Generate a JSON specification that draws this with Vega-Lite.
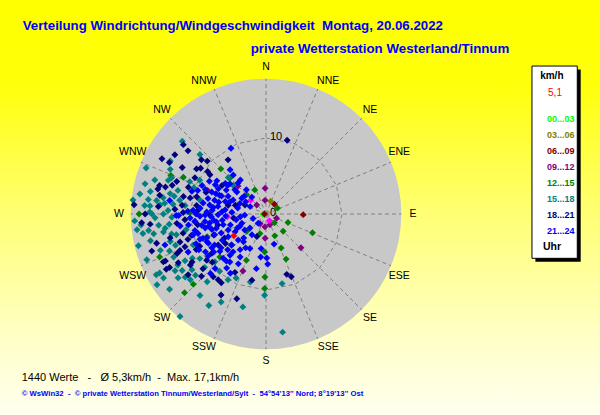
{
  "$schema": "https://vega.github.io/schema/vega-lite/v6.json",
  "width": 600,
  "height": 415,
  "padding": 0,
  "autosize": "none",
  "background": "#FFFFF0",
  "config": {"view": {"stroke": null}, "font": "Liberation Sans"},
  "datasets": {
    "richtungen": [
      {"Richtung": 0, "Name": "N"}, {"Richtung": 22.5, "Name": "NNE"}, {"Richtung": 45, "Name": "NE"}, {"Richtung": 67.5, "Name": "ENE"},
      {"Richtung": 90, "Name": "E"}, {"Richtung": 112.5, "Name": "ESE"}, {"Richtung": 135, "Name": "SE"}, {"Richtung": 157.5, "Name": "SSE"},
      {"Richtung": 180, "Name": "S"}, {"Richtung": 202.5, "Name": "SSW"}, {"Richtung": 225, "Name": "SW"}, {"Richtung": 247.5, "Name": "WSW"},
      {"Richtung": 270, "Name": "W"}, {"Richtung": 292.5, "Name": "WNW"}, {"Richtung": 315, "Name": "NW"}, {"Richtung": 337.5, "Name": "NNW"}
    ],
    "ringe": [{"kmh": 0}, {"kmh": 10}],
    "wind": [
      {"Richtung": 265, "kmh": 0.4, "Uhr": "00...03"},
      {"Richtung": 20, "kmh": 1.8, "Uhr": "03...06"},
      {"Richtung": 41, "kmh": 1.7, "Uhr": "06...09"},
      {"Richtung": 91, "kmh": 4.9, "Uhr": "06...09"},
      {"Richtung": 270, "kmh": 0.2, "Uhr": "06...09"},
      {"Richtung": 292, "kmh": 8.3, "Uhr": "09...12"},
      {"Richtung": 315, "kmh": 5.2, "Uhr": "09...12"},
      {"Richtung": 358, "kmh": 3.4, "Uhr": "09...12"},
      {"Richtung": 314, "kmh": 1.7, "Uhr": "09...12"},
      {"Richtung": 356, "kmh": 1.8, "Uhr": "09...12"},
      {"Richtung": 112, "kmh": 1.5, "Uhr": "09...12"},
      {"Richtung": 211, "kmh": 1.5, "Uhr": "09...12"},
      {"Richtung": 185, "kmh": 1.7, "Uhr": "09...12"},
      {"Richtung": 160, "kmh": 1.5, "Uhr": "09...12"},
      {"Richtung": 182, "kmh": 3.2, "Uhr": "09...12"},
      {"Richtung": 134, "kmh": 6.4, "Uhr": "09...12"},
      {"Richtung": 202, "kmh": 8.1, "Uhr": "09...12"},
      {"Richtung": 266, "kmh": 5.1, "Uhr": "Sonst"},
      {"Richtung": 154, "kmh": 1.0, "Uhr": "Sonst"},
      {"Richtung": 312, "kmh": 2.7, "Uhr": "Sonst"},
      {"Richtung": 315, "kmh": 8.4, "Uhr": "12...15"},
      {"Richtung": 292, "kmh": 13.5, "Uhr": "12...15"},
      {"Richtung": 294, "kmh": 11.9, "Uhr": "12...15"},
      {"Richtung": 270, "kmh": 16.7, "Uhr": "12...15"},
      {"Richtung": 271, "kmh": 10.0, "Uhr": "12...15"},
      {"Richtung": 249, "kmh": 8.3, "Uhr": "12...15"},
      {"Richtung": 248, "kmh": 15.1, "Uhr": "12...15"},
      {"Richtung": 227, "kmh": 8.3, "Uhr": "12...15"},
      {"Richtung": 226, "kmh": 13.3, "Uhr": "12...15"},
      {"Richtung": 226, "kmh": 14.9, "Uhr": "12...15"},
      {"Richtung": 315, "kmh": 6.7, "Uhr": "12...15"},
      {"Richtung": 335, "kmh": 3.5, "Uhr": "12...15"},
      {"Richtung": 315, "kmh": 3.6, "Uhr": "12...15"},
      {"Richtung": 63, "kmh": 1.7, "Uhr": "12...15"},
      {"Richtung": 111, "kmh": 3.1, "Uhr": "12...15"},
      {"Richtung": 136, "kmh": 1.6, "Uhr": "12...15"},
      {"Richtung": 228, "kmh": 3.4, "Uhr": "12...15"},
      {"Richtung": 197, "kmh": 2.7, "Uhr": "12...15"},
      {"Richtung": 158, "kmh": 3.1, "Uhr": "12...15"},
      {"Richtung": 135, "kmh": 3.2, "Uhr": "12...15"},
      {"Richtung": 112, "kmh": 6.6, "Uhr": "12...15"},
      {"Richtung": 156, "kmh": 4.9, "Uhr": "12...15"},
      {"Richtung": 182, "kmh": 5.0, "Uhr": "12...15"},
      {"Richtung": 203, "kmh": 6.6, "Uhr": "12...15"},
      {"Richtung": 156, "kmh": 6.5, "Uhr": "12...15"},
      {"Richtung": 181, "kmh": 8.3, "Uhr": "12...15"},
      {"Richtung": 181, "kmh": 9.8, "Uhr": "12...15"},
      {"Richtung": 311, "kmh": 14.6, "Uhr": "15...18"},
      {"Richtung": 312, "kmh": 11.7, "Uhr": "15...18"},
      {"Richtung": 299, "kmh": 14.4, "Uhr": "15...18"},
      {"Richtung": 291, "kmh": 16.9, "Uhr": "15...18"},
      {"Richtung": 295, "kmh": 13.9, "Uhr": "15...18"},
      {"Richtung": 291, "kmh": 13.3, "Uhr": "15...18"},
      {"Richtung": 289, "kmh": 13.6, "Uhr": "15...18"},
      {"Richtung": 293, "kmh": 10.9, "Uhr": "15...18"},
      {"Richtung": 297, "kmh": 9.8, "Uhr": "15...18"},
      {"Richtung": 314, "kmh": 6.9, "Uhr": "15...18"},
      {"Richtung": 290, "kmh": 10.1, "Uhr": "15...18"},
      {"Richtung": 281, "kmh": 15.5, "Uhr": "15...18"},
      {"Richtung": 282, "kmh": 12.9, "Uhr": "15...18"},
      {"Richtung": 281, "kmh": 12.3, "Uhr": "15...18"},
      {"Richtung": 276, "kmh": 17.6, "Uhr": "15...18"},
      {"Richtung": 277, "kmh": 15.6, "Uhr": "15...18"},
      {"Richtung": 277, "kmh": 14.5, "Uhr": "15...18"},
      {"Richtung": 279, "kmh": 13.7, "Uhr": "15...18"},
      {"Richtung": 282, "kmh": 8.9, "Uhr": "15...18"},
      {"Richtung": 276, "kmh": 13.4, "Uhr": "15...18"},
      {"Richtung": 276, "kmh": 12.3, "Uhr": "15...18"},
      {"Richtung": 276, "kmh": 10.7, "Uhr": "15...18"},
      {"Richtung": 271, "kmh": 15.3, "Uhr": "15...18"},
      {"Richtung": 270, "kmh": 15.0, "Uhr": "15...18"},
      {"Richtung": 270, "kmh": 13.5, "Uhr": "15...18"},
      {"Richtung": 268, "kmh": 12.4, "Uhr": "15...18"},
      {"Richtung": 267, "kmh": 17.3, "Uhr": "15...18"},
      {"Richtung": 265, "kmh": 16.5, "Uhr": "15...18"},
      {"Richtung": 264, "kmh": 14.2, "Uhr": "15...18"},
      {"Richtung": 264, "kmh": 12.8, "Uhr": "15...18"},
      {"Richtung": 262, "kmh": 15.6, "Uhr": "15...18"},
      {"Richtung": 261, "kmh": 16.4, "Uhr": "15...18"},
      {"Richtung": 260, "kmh": 15.0, "Uhr": "15...18"},
      {"Richtung": 260, "kmh": 13.7, "Uhr": "15...18"},
      {"Richtung": 258, "kmh": 12.7, "Uhr": "15...18"},
      {"Richtung": 257, "kmh": 12.1, "Uhr": "15...18"},
      {"Richtung": 256, "kmh": 17.3, "Uhr": "15...18"},
      {"Richtung": 254, "kmh": 13.1, "Uhr": "15...18"},
      {"Richtung": 247, "kmh": 10.4, "Uhr": "15...18"},
      {"Richtung": 249, "kmh": 13.6, "Uhr": "15...18"},
      {"Richtung": 245, "kmh": 13.4, "Uhr": "15...18"},
      {"Richtung": 240, "kmh": 12.3, "Uhr": "15...18"},
      {"Richtung": 236, "kmh": 10.5, "Uhr": "15...18"},
      {"Richtung": 227, "kmh": 9.2, "Uhr": "15...18"},
      {"Richtung": 236, "kmh": 13.3, "Uhr": "15...18"},
      {"Richtung": 233, "kmh": 12.2, "Uhr": "15...18"},
      {"Richtung": 219, "kmh": 9.7, "Uhr": "15...18"},
      {"Richtung": 238, "kmh": 15.9, "Uhr": "15...18"},
      {"Richtung": 234, "kmh": 14.3, "Uhr": "15...18"},
      {"Richtung": 229, "kmh": 13.2, "Uhr": "15...18"},
      {"Richtung": 221, "kmh": 11.8, "Uhr": "15...18"},
      {"Richtung": 241, "kmh": 16.5, "Uhr": "15...18"},
      {"Richtung": 241, "kmh": 16.0, "Uhr": "15...18"},
      {"Richtung": 240, "kmh": 13.4, "Uhr": "15...18"},
      {"Richtung": 232, "kmh": 13.5, "Uhr": "15...18"},
      {"Richtung": 219, "kmh": 13.8, "Uhr": "15...18"},
      {"Richtung": 212, "kmh": 14.2, "Uhr": "15...18"},
      {"Richtung": 207, "kmh": 13.0, "Uhr": "15...18"},
      {"Richtung": 220, "kmh": 17.6, "Uhr": "15...18"},
      {"Richtung": 194, "kmh": 12.6, "Uhr": "15...18"},
      {"Richtung": 210, "kmh": 10.0, "Uhr": "15...18"},
      {"Richtung": 193, "kmh": 9.2, "Uhr": "15...18"},
      {"Richtung": 181, "kmh": 10.7, "Uhr": "15...18"},
      {"Richtung": 172, "kmh": 15.7, "Uhr": "15...18"},
      {"Richtung": 167, "kmh": 9.4, "Uhr": "15...18"},
      {"Richtung": 205, "kmh": 9.3, "Uhr": "15...18"},
      {"Richtung": 311, "kmh": 5.7, "Uhr": "15...18"},
      {"Richtung": 279, "kmh": 16.8, "Uhr": "15...18"},
      {"Richtung": 284, "kmh": 16.4, "Uhr": "15...18"},
      {"Richtung": 287, "kmh": 15.3, "Uhr": "15...18"},
      {"Richtung": 275, "kmh": 14.0, "Uhr": "15...18"},
      {"Richtung": 285, "kmh": 12.0, "Uhr": "15...18"},
      {"Richtung": 259, "kmh": 10.7, "Uhr": "15...18"},
      {"Richtung": 257, "kmh": 15.6, "Uhr": "15...18"},
      {"Richtung": 251, "kmh": 14.7, "Uhr": "15...18"},
      {"Richtung": 249, "kmh": 16.8, "Uhr": "15...18"},
      {"Richtung": 251, "kmh": 12.6, "Uhr": "15...18"},
      {"Richtung": 262, "kmh": 13.4, "Uhr": "15...18"},
      {"Richtung": 268, "kmh": 14.6, "Uhr": "15...18"},
      {"Richtung": 239, "kmh": 11.3, "Uhr": "15...18"},
      {"Richtung": 229, "kmh": 10.7, "Uhr": "15...18"},
      {"Richtung": 274, "kmh": 16.0, "Uhr": "15...18"},
      {"Richtung": 272, "kmh": 12.9, "Uhr": "15...18"},
      {"Richtung": 279, "kmh": 11.5, "Uhr": "15...18"},
      {"Richtung": 238, "kmh": 14.1, "Uhr": "15...18"},
      {"Richtung": 229, "kmh": 12.3, "Uhr": "15...18"},
      {"Richtung": 263, "kmh": 17.1, "Uhr": "15...18"},
      {"Richtung": 237, "kmh": 17.1, "Uhr": "15...18"},
      {"Richtung": 232, "kmh": 16.1, "Uhr": "15...18"},
      {"Richtung": 274, "kmh": 15.3, "Uhr": "15...18"},
      {"Richtung": 310, "kmh": 14.2, "Uhr": "18...21"},
      {"Richtung": 309, "kmh": 13.2, "Uhr": "18...21"},
      {"Richtung": 298, "kmh": 15.5, "Uhr": "18...21"},
      {"Richtung": 298, "kmh": 14.4, "Uhr": "18...21"},
      {"Richtung": 310, "kmh": 11.1, "Uhr": "18...21"},
      {"Richtung": 312, "kmh": 10.4, "Uhr": "18...21"},
      {"Richtung": 299, "kmh": 12.6, "Uhr": "18...21"},
      {"Richtung": 303, "kmh": 10.9, "Uhr": "18...21"},
      {"Richtung": 305, "kmh": 10.5, "Uhr": "18...21"},
      {"Richtung": 325, "kmh": 8.7, "Uhr": "18...21"},
      {"Richtung": 16, "kmh": 10.1, "Uhr": "18...21"},
      {"Richtung": 285, "kmh": 14.5, "Uhr": "18...21"},
      {"Richtung": 285, "kmh": 13.7, "Uhr": "18...21"},
      {"Richtung": 290, "kmh": 12.5, "Uhr": "18...21"},
      {"Richtung": 289, "kmh": 10.8, "Uhr": "18...21"},
      {"Richtung": 282, "kmh": 11.1, "Uhr": "18...21"},
      {"Richtung": 284, "kmh": 9.4, "Uhr": "18...21"},
      {"Richtung": 282, "kmh": 10.2, "Uhr": "18...21"},
      {"Richtung": 274, "kmh": 17.4, "Uhr": "18...21"},
      {"Richtung": 274, "kmh": 14.2, "Uhr": "18...21"},
      {"Richtung": 276, "kmh": 11.1, "Uhr": "18...21"},
      {"Richtung": 277, "kmh": 9.2, "Uhr": "18...21"},
      {"Richtung": 271, "kmh": 10.9, "Uhr": "18...21"},
      {"Richtung": 272, "kmh": 9.1, "Uhr": "18...21"},
      {"Richtung": 266, "kmh": 16.4, "Uhr": "18...21"},
      {"Richtung": 264, "kmh": 11.8, "Uhr": "18...21"},
      {"Richtung": 264, "kmh": 9.4, "Uhr": "18...21"},
      {"Richtung": 257, "kmh": 11.2, "Uhr": "18...21"},
      {"Richtung": 254, "kmh": 10.2, "Uhr": "18...21"},
      {"Richtung": 255, "kmh": 14.9, "Uhr": "18...21"},
      {"Richtung": 252, "kmh": 11.9, "Uhr": "18...21"},
      {"Richtung": 248, "kmh": 11.5, "Uhr": "18...21"},
      {"Richtung": 244, "kmh": 9.7, "Uhr": "18...21"},
      {"Richtung": 234, "kmh": 6.6, "Uhr": "18...21"},
      {"Richtung": 252, "kmh": 15.8, "Uhr": "18...21"},
      {"Richtung": 246, "kmh": 12.8, "Uhr": "18...21"},
      {"Richtung": 247, "kmh": 12.3, "Uhr": "18...21"},
      {"Richtung": 243, "kmh": 10.3, "Uhr": "18...21"},
      {"Richtung": 234, "kmh": 8.8, "Uhr": "18...21"},
      {"Richtung": 245, "kmh": 14.6, "Uhr": "18...21"},
      {"Richtung": 241, "kmh": 13.2, "Uhr": "18...21"},
      {"Richtung": 237, "kmh": 11.6, "Uhr": "18...21"},
      {"Richtung": 232, "kmh": 9.9, "Uhr": "18...21"},
      {"Richtung": 241, "kmh": 15.0, "Uhr": "18...21"},
      {"Richtung": 241, "kmh": 14.5, "Uhr": "18...21"},
      {"Richtung": 229, "kmh": 11.0, "Uhr": "18...21"},
      {"Richtung": 226, "kmh": 11.8, "Uhr": "18...21"},
      {"Richtung": 220, "kmh": 10.8, "Uhr": "18...21"},
      {"Richtung": 216, "kmh": 10.7, "Uhr": "18...21"},
      {"Richtung": 213, "kmh": 10.8, "Uhr": "18...21"},
      {"Richtung": 209, "kmh": 12.2, "Uhr": "18...21"},
      {"Richtung": 199, "kmh": 11.8, "Uhr": "18...21"},
      {"Richtung": 208, "kmh": 8.7, "Uhr": "18...21"},
      {"Richtung": 192, "kmh": 8.9, "Uhr": "18...21"},
      {"Richtung": 161, "kmh": 8.4, "Uhr": "18...21"},
      {"Richtung": 158, "kmh": 8.9, "Uhr": "18...21"},
      {"Richtung": 202, "kmh": 3.2, "Uhr": "18...21"},
      {"Richtung": 263, "kmh": 4.3, "Uhr": "18...21"},
      {"Richtung": 286, "kmh": 4.2, "Uhr": "18...21"},
      {"Richtung": 293, "kmh": 3.0, "Uhr": "18...21"},
      {"Richtung": 269, "kmh": 7.4, "Uhr": "18...21"},
      {"Richtung": 257, "kmh": 6.5, "Uhr": "18...21"},
      {"Richtung": 240, "kmh": 6.3, "Uhr": "18...21"},
      {"Richtung": 303, "kmh": 6.9, "Uhr": "18...21"},
      {"Richtung": 228, "kmh": 6.1, "Uhr": "18...21"},
      {"Richtung": 252, "kmh": 10.8, "Uhr": "18...21"},
      {"Richtung": 248, "kmh": 7.4, "Uhr": "18...21"},
      {"Richtung": 306, "kmh": 9.5, "Uhr": "18...21"},
      {"Richtung": 265, "kmh": 15.3, "Uhr": "18...21"},
      {"Richtung": 256, "kmh": 13.0, "Uhr": "18...21"},
      {"Richtung": 266, "kmh": 10.7, "Uhr": "18...21"},
      {"Richtung": 280, "kmh": 14.2, "Uhr": "18...21"},
      {"Richtung": 287, "kmh": 12.9, "Uhr": "18...21"},
      {"Richtung": 297, "kmh": 10.5, "Uhr": "18...21"},
      {"Richtung": 305, "kmh": 9.0, "Uhr": "18...21"},
      {"Richtung": 236, "kmh": 12.0, "Uhr": "18...21"},
      {"Richtung": 228, "kmh": 9.5, "Uhr": "18...21"},
      {"Richtung": 261, "kmh": 9.1, "Uhr": "18...21"},
      {"Richtung": 290, "kmh": 8.4, "Uhr": "18...21"},
      {"Richtung": 283, "kmh": 5.1, "Uhr": "18...21"},
      {"Richtung": 237, "kmh": 7.5, "Uhr": "18...21"},
      {"Richtung": 273, "kmh": 12.0, "Uhr": "18...21"},
      {"Richtung": 283, "kmh": 14.6, "Uhr": "18...21"},
      {"Richtung": 270, "kmh": 15.9, "Uhr": "18...21"},
      {"Richtung": 245, "kmh": 14.9, "Uhr": "18...21"},
      {"Richtung": 232, "kmh": 13.0, "Uhr": "18...21"},
      {"Richtung": 303, "kmh": 14.3, "Uhr": "18...21"},
      {"Richtung": 332, "kmh": 9.8, "Uhr": "21...24"},
      {"Richtung": 320, "kmh": 6.7, "Uhr": "21...24"},
      {"Richtung": 300, "kmh": 8.6, "Uhr": "21...24"},
      {"Richtung": 304, "kmh": 7.8, "Uhr": "21...24"},
      {"Richtung": 307, "kmh": 6.7, "Uhr": "21...24"},
      {"Richtung": 298, "kmh": 7.1, "Uhr": "21...24"},
      {"Richtung": 278, "kmh": 12.8, "Uhr": "21...24"},
      {"Richtung": 280, "kmh": 8.4, "Uhr": "21...24"},
      {"Richtung": 279, "kmh": 7.5, "Uhr": "21...24"},
      {"Richtung": 279, "kmh": 6.4, "Uhr": "21...24"},
      {"Richtung": 287, "kmh": 5.6, "Uhr": "21...24"},
      {"Richtung": 269, "kmh": 11.5, "Uhr": "21...24"},
      {"Richtung": 268, "kmh": 8.7, "Uhr": "21...24"},
      {"Richtung": 269, "kmh": 8.0, "Uhr": "21...24"},
      {"Richtung": 267, "kmh": 7.2, "Uhr": "21...24"},
      {"Richtung": 269, "kmh": 6.3, "Uhr": "21...24"},
      {"Richtung": 262, "kmh": 10.3, "Uhr": "21...24"},
      {"Richtung": 260, "kmh": 8.6, "Uhr": "21...24"},
      {"Richtung": 261, "kmh": 7.5, "Uhr": "21...24"},
      {"Richtung": 261, "kmh": 6.6, "Uhr": "21...24"},
      {"Richtung": 256, "kmh": 5.8, "Uhr": "21...24"},
      {"Richtung": 254, "kmh": 9.3, "Uhr": "21...24"},
      {"Richtung": 248, "kmh": 7.3, "Uhr": "21...24"},
      {"Richtung": 247, "kmh": 6.4, "Uhr": "21...24"},
      {"Richtung": 253, "kmh": 13.9, "Uhr": "21...24"},
      {"Richtung": 243, "kmh": 8.5, "Uhr": "21...24"},
      {"Richtung": 239, "kmh": 7.9, "Uhr": "21...24"},
      {"Richtung": 244, "kmh": 11.4, "Uhr": "21...24"},
      {"Richtung": 238, "kmh": 9.4, "Uhr": "21...24"},
      {"Richtung": 231, "kmh": 7.8, "Uhr": "21...24"},
      {"Richtung": 220, "kmh": 8.1, "Uhr": "21...24"},
      {"Richtung": 223, "kmh": 10.7, "Uhr": "21...24"},
      {"Richtung": 216, "kmh": 8.8, "Uhr": "21...24"},
      {"Richtung": 251, "kmh": 1.8, "Uhr": "21...24"},
      {"Richtung": 220, "kmh": 1.6, "Uhr": "21...24"},
      {"Richtung": 249, "kmh": 3.4, "Uhr": "21...24"},
      {"Richtung": 264, "kmh": 3.4, "Uhr": "21...24"},
      {"Richtung": 214, "kmh": 3.3, "Uhr": "21...24"},
      {"Richtung": 239, "kmh": 5.8, "Uhr": "21...24"},
      {"Richtung": 227, "kmh": 5.0, "Uhr": "21...24"},
      {"Richtung": 219, "kmh": 4.7, "Uhr": "21...24"},
      {"Richtung": 228, "kmh": 6.1, "Uhr": "21...24"},
      {"Richtung": 216, "kmh": 5.8, "Uhr": "21...24"},
      {"Richtung": 205, "kmh": 5.0, "Uhr": "21...24"},
      {"Richtung": 188, "kmh": 4.6, "Uhr": "21...24"},
      {"Richtung": 165, "kmh": 4.1, "Uhr": "21...24"},
      {"Richtung": 221, "kmh": 7.2, "Uhr": "21...24"},
      {"Richtung": 211, "kmh": 6.6, "Uhr": "21...24"},
      {"Richtung": 187, "kmh": 5.7, "Uhr": "21...24"},
      {"Richtung": 179, "kmh": 5.8, "Uhr": "21...24"},
      {"Richtung": 178, "kmh": 6.6, "Uhr": "21...24"},
      {"Richtung": 190, "kmh": 7.3, "Uhr": "21...24"},
      {"Richtung": 211, "kmh": 9.1, "Uhr": "21...24"},
      {"Richtung": 307, "kmh": 6.3, "Uhr": "21...24"},
      {"Richtung": 321, "kmh": 4.1, "Uhr": "21...24"},
      {"Richtung": 320, "kmh": 2.9, "Uhr": "21...24"},
      {"Richtung": 303, "kmh": 3.8, "Uhr": "21...24"},
      {"Richtung": 292, "kmh": 3.7, "Uhr": "21...24"},
      {"Richtung": 295, "kmh": 5.5, "Uhr": "21...24"},
      {"Richtung": 289, "kmh": 5.0, "Uhr": "21...24"},
      {"Richtung": 295, "kmh": 2.3, "Uhr": "21...24"},
      {"Richtung": 292, "kmh": 8.6, "Uhr": "21...24"},
      {"Richtung": 292, "kmh": 7.7, "Uhr": "21...24"},
      {"Richtung": 292, "kmh": 6.6, "Uhr": "21...24"},
      {"Richtung": 308, "kmh": 5.2, "Uhr": "21...24"},
      {"Richtung": 285, "kmh": 7.9, "Uhr": "21...24"},
      {"Richtung": 285, "kmh": 7.0, "Uhr": "21...24"},
      {"Richtung": 282, "kmh": 3.8, "Uhr": "21...24"},
      {"Richtung": 277, "kmh": 7.0, "Uhr": "21...24"},
      {"Richtung": 276, "kmh": 5.4, "Uhr": "21...24"},
      {"Richtung": 273, "kmh": 4.5, "Uhr": "21...24"},
      {"Richtung": 272, "kmh": 7.8, "Uhr": "21...24"},
      {"Richtung": 262, "kmh": 5.8, "Uhr": "21...24"},
      {"Richtung": 253, "kmh": 4.9, "Uhr": "21...24"},
      {"Richtung": 244, "kmh": 4.2, "Uhr": "21...24"},
      {"Richtung": 257, "kmh": 8.2, "Uhr": "21...24"},
      {"Richtung": 254, "kmh": 7.4, "Uhr": "21...24"},
      {"Richtung": 247, "kmh": 5.4, "Uhr": "21...24"},
      {"Richtung": 248, "kmh": 8.4, "Uhr": "21...24"},
      {"Richtung": 239, "kmh": 6.7, "Uhr": "21...24"},
      {"Richtung": 238, "kmh": 8.4, "Uhr": "21...24"},
      {"Richtung": 227, "kmh": 6.9, "Uhr": "21...24"},
      {"Richtung": 240, "kmh": 4.7, "Uhr": "21...24"},
      {"Richtung": 257, "kmh": 9.6, "Uhr": "21...24"},
      {"Richtung": 267, "kmh": 10.0, "Uhr": "21...24"},
      {"Richtung": 267, "kmh": 2.8, "Uhr": "21...24"},
      {"Richtung": 318, "kmh": 5.5, "Uhr": "21...24"},
      {"Richtung": 249, "kmh": 9.3, "Uhr": "21...24"},
      {"Richtung": 273, "kmh": 9.6, "Uhr": "21...24"},
      {"Richtung": 262, "kmh": 11.4, "Uhr": "21...24"},
      {"Richtung": 289, "kmh": 9.5, "Uhr": "21...24"},
      {"Richtung": 301, "kmh": 6.1, "Uhr": "21...24"},
      {"Richtung": 309, "kmh": 3.7, "Uhr": "21...24"},
      {"Richtung": 293, "kmh": 4.7, "Uhr": "21...24"},
      {"Richtung": 284, "kmh": 6.4, "Uhr": "21...24"},
      {"Richtung": 275, "kmh": 8.7, "Uhr": "21...24"},
      {"Richtung": 273, "kmh": 5.8, "Uhr": "21...24"},
      {"Richtung": 263, "kmh": 6.9, "Uhr": "21...24"},
      {"Richtung": 259, "kmh": 4.0, "Uhr": "21...24"},
      {"Richtung": 254, "kmh": 10.0, "Uhr": "21...24"},
      {"Richtung": 249, "kmh": 8.9, "Uhr": "21...24"},
      {"Richtung": 254, "kmh": 6.8, "Uhr": "21...24"},
      {"Richtung": 221, "kmh": 6.6, "Uhr": "21...24"},
      {"Richtung": 247, "kmh": 10.0, "Uhr": "21...24"},
      {"Richtung": 234, "kmh": 9.4, "Uhr": "21...24"},
      {"Richtung": 224, "kmh": 8.1, "Uhr": "21...24"},
      {"Richtung": 223, "kmh": 9.8, "Uhr": "21...24"},
      {"Richtung": 209, "kmh": 7.5, "Uhr": "21...24"},
      {"Richtung": 233, "kmh": 3.5, "Uhr": "21...24"},
      {"Richtung": 229, "kmh": 2.8, "Uhr": "21...24"},
      {"Richtung": 287, "kmh": 10.2, "Uhr": "21...24"},
      {"Richtung": 300, "kmh": 7.7, "Uhr": "21...24"},
      {"Richtung": 321, "kmh": 7.5, "Uhr": "21...24"},
      {"Richtung": 323, "kmh": 5.6, "Uhr": "21...24"},
      {"Richtung": 263, "kmh": 8.1, "Uhr": "21...24"},
      {"Richtung": 269, "kmh": 11.8, "Uhr": "21...24"},
      {"Richtung": 294, "kmh": 9.2, "Uhr": "21...24"},
      {"Richtung": 292, "kmh": 7.1, "Uhr": "21...24"},
      {"Richtung": 310, "kmh": 6.2, "Uhr": "21...24"},
      {"Richtung": 301, "kmh": 3.1, "Uhr": "21...24"},
      {"Richtung": 270, "kmh": 9.2, "Uhr": "21...24"},
      {"Richtung": 258, "kmh": 7.7, "Uhr": "21...24"},
      {"Richtung": 267, "kmh": 5.3, "Uhr": "21...24"},
      {"Richtung": 245, "kmh": 3.8, "Uhr": "21...24"},
      {"Richtung": 242, "kmh": 10.0, "Uhr": "21...24"},
      {"Richtung": 234, "kmh": 8.5, "Uhr": "21...24"},
      {"Richtung": 217, "kmh": 7.9, "Uhr": "21...24"},
      {"Richtung": 211, "kmh": 5.2, "Uhr": "21...24"},
      {"Richtung": 292, "kmh": 6.3, "Uhr": "21...24"},
      {"Richtung": 307, "kmh": 4.8, "Uhr": "21...24"},
      {"Richtung": 245, "kmh": 8.6, "Uhr": "21...24"},
      {"Richtung": 233, "kmh": 7.4, "Uhr": "21...24"},
      {"Richtung": 272, "kmh": 10.3, "Uhr": "21...24"},
      {"Richtung": 264, "kmh": 9.4, "Uhr": "21...24"},
      {"Richtung": 274, "kmh": 7.1, "Uhr": "21...24"},
      {"Richtung": 223, "kmh": 4.3, "Uhr": "21...24"},
      {"Richtung": 236, "kmh": 5.1, "Uhr": "aktuell"}
    ]
  },
  "layer": [
    {
      "data": {"values": [{}]},
      "transform": [
        {"calculate": "-35", "as": "l"}, {"calculate": "43.95", "as": "r"},
        {"calculate": "28.16", "as": "o"}, {"calculate": "-26.45", "as": "u"}
      ],
      "mark": {"type": "rect", "fill": {"gradient": "linear", "x1": 0, "y1": 0, "x2": 0, "y2": 1, "stops": [
        {"offset": 0, "color": "#FFFF00"}, {"offset": 0.2, "color": "#FFFF0A"}, {"offset": 0.5, "color": "#FFFF70"}, {"offset": 0.8, "color": "#FFFFC4"}, {"offset": 1, "color": "#FFFFF0"}]}},
      "encoding": {
        "x": {"field": "l", "type": "quantitative", "scale": {"domain": [-35, 43.95], "nice": false, "zero": false}, "axis": null},
        "x2": {"field": "r"},
        "y": {"field": "o", "type": "quantitative", "scale": {"domain": [-26.45, 28.16], "nice": false, "zero": false}, "axis": null},
        "y2": {"field": "u"}
      }
    },
    {
      "data": {"values": [{}]},
      "mark": {"type": "point", "shape": "circle", "filled": true, "size": 73224, "color": "#C8C8C8", "opacity": 1, "strokeWidth": 0},
      "encoding": {
        "x": {"datum": 0, "type": "quantitative", "scale": {"domain": [-35, 43.95], "nice": false, "zero": false}, "axis": null},
        "y": {"datum": 0, "type": "quantitative", "scale": {"domain": [-26.45, 28.16], "nice": false, "zero": false}, "axis": null}
      }
    },
    {
      "data": {"name": "richtungen"},
      "transform": [
        {"calculate": "0", "as": "x0"},
        {"calculate": "0", "as": "y0"},
        {"calculate": "17.8*sin(datum.Richtung*PI/180)", "as": "xe"},
        {"calculate": "17.8*cos(datum.Richtung*PI/180)", "as": "ye"}
      ],
      "mark": {"type": "rule", "color": "#808080", "strokeDash": [4, 3], "strokeWidth": 1},
      "encoding": {
        "x": {"field": "x0", "type": "quantitative", "scale": {"domain": [-35, 43.95], "nice": false, "zero": false}, "axis": null},
        "y": {"field": "y0", "type": "quantitative", "scale": {"domain": [-26.45, 28.16], "nice": false, "zero": false}, "axis": null},
        "x2": {"field": "xe"},
        "y2": {"field": "ye"}
      }
    },
    {
      "data": {"name": "richtungen"},
      "transform": [
        {"calculate": "10*sin(datum.Richtung*PI/180)", "as": "xr"},
        {"calculate": "10*cos(datum.Richtung*PI/180)", "as": "yr"}
      ],
      "mark": {"type": "line", "interpolate": "linear-closed", "color": "#808080", "strokeDash": [4, 3], "strokeWidth": 1},
      "encoding": {
        "x": {"field": "xr", "type": "quantitative", "scale": {"domain": [-35, 43.95], "nice": false, "zero": false}, "axis": null},
        "y": {"field": "yr", "type": "quantitative", "scale": {"domain": [-26.45, 28.16], "nice": false, "zero": false}, "axis": null},
        "order": {"field": "Richtung", "type": "quantitative"}
      }
    },
    {
      "data": {"name": "richtungen"},
      "transform": [
        {"calculate": "(datum.Richtung + 2.5*sin(4*datum.Richtung*PI/180))*PI/180", "as": "phi"},
        {"calculate": "19.35*sin(datum.phi)", "as": "xl"},
        {"calculate": "19.35*cos(datum.phi)", "as": "yl"}
      ],
      "mark": {"type": "text", "align": "center", "baseline": "middle", "font": "Liberation Sans", "fontSize": 10.5, "color": "#000000"},
      "encoding": {
        "x": {"field": "xl", "type": "quantitative", "scale": {"domain": [-35, 43.95], "nice": false, "zero": false}, "axis": null},
        "y": {"field": "yl", "type": "quantitative", "scale": {"domain": [-26.45, 28.16], "nice": false, "zero": false}, "axis": null},
        "text": {"field": "Name", "type": "nominal"}
      }
    },
    {
      "data": {"name": "ringe"},
      "transform": [{"calculate": "0", "as": "x0"}],
      "mark": {"type": "text", "align": "left", "baseline": "middle", "dx": 4, "dy": -1, "font": "Liberation Sans", "fontSize": 11, "color": "#000000"},
      "encoding": {
        "x": {"field": "x0", "type": "quantitative", "scale": {"domain": [-35, 43.95], "nice": false, "zero": false}, "axis": null},
        "y": {"field": "kmh", "type": "quantitative", "scale": {"domain": [-26.45, 28.16], "nice": false, "zero": false}, "axis": null},
        "text": {"field": "kmh", "type": "quantitative"}
      }
    },
    {
      "data": {"name": "wind"},
      "transform": [
        {"calculate": "datum.kmh*sin(datum.Richtung*PI/180)", "as": "ost"},
        {"calculate": "datum.kmh*cos(datum.Richtung*PI/180)", "as": "nord"}
      ],
      "mark": {"type": "point", "shape": "diamond", "filled": true, "size": 48, "opacity": 1, "strokeWidth": 0},
      "encoding": {
        "x": {"field": "ost", "type": "quantitative", "scale": {"domain": [-35, 43.95], "nice": false, "zero": false}, "axis": null},
        "y": {"field": "nord", "type": "quantitative", "scale": {"domain": [-26.45, 28.16], "nice": false, "zero": false}, "axis": null},
        "color": {
          "field": "Uhr", "type": "nominal",
          "scale": {
            "domain": ["00...03", "03...06", "06...09", "09...12", "12...15", "15...18", "18...21", "21...24", "aktuell", "Sonst"],
            "range": ["#00FF00", "#808000", "#800000", "#800080", "#008000", "#008080", "#000080", "#0000FF", "#FF0000", "#FF00FF"]
          },
          "legend": {
            "orient": "none", "legendX": 538, "legendY": 114, "title": null,
            "values": ["00...03", "03...06", "06...09", "09...12", "12...15", "15...18", "18...21", "21...24"],
            "symbolSize": 0, "symbolOpacity": 0, "symbolStrokeWidth": 0, "labelOffset": 0,
            "labelFont": "Liberation Sans", "labelFontSize": 9, "labelFontWeight": "bold", "labelLimit": 0,
            "labelColor": {"expr": "scale('color', datum.value)"},
            "rowPadding": 6, "padding": 0
          }
        }
      }
    },
    {
      "data": {"values": [{}]},
      "transform": [
        {"calculate": "35.45", "as": "l"}, {"calculate": "41.41", "as": "r"},
        {"calculate": "19.03", "as": "o"}, {"calculate": "-6.28", "as": "u"}
      ],
      "mark": {"type": "rect", "color": "#000000"},
      "encoding": {
        "x": {"field": "l", "type": "quantitative", "scale": {"domain": [-35, 43.95], "nice": false, "zero": false}, "axis": null},
        "x2": {"field": "r"},
        "y": {"field": "o", "type": "quantitative", "scale": {"domain": [-26.45, 28.16], "nice": false, "zero": false}, "axis": null},
        "y2": {"field": "u"}
      }
    },
    {
      "data": {"values": [{}]},
      "transform": [
        {"calculate": "35.0", "as": "l"}, {"calculate": "40.96", "as": "r"},
        {"calculate": "19.47", "as": "o"}, {"calculate": "-5.83", "as": "u"}
      ],
      "mark": {"type": "rect", "fill": "#FFFFFF", "stroke": "#000000", "strokeWidth": 1},
      "encoding": {
        "x": {"field": "l", "type": "quantitative", "scale": {"domain": [-35, 43.95], "nice": false, "zero": false}, "axis": null},
        "x2": {"field": "r"},
        "y": {"field": "o", "type": "quantitative", "scale": {"domain": [-26.45, 28.16], "nice": false, "zero": false}, "axis": null},
        "y2": {"field": "u"}
      }
    },
    {
      "data": {"values": [{}]},
      "mark": {"type": "text", "text": "km/h", "align": "center", "baseline": "middle", "font": "Liberation Sans", "fontSize": 10, "fontWeight": "bold", "color": "#000000"},
      "encoding": {
        "x": {"datum": 37.61, "type": "quantitative", "scale": {"domain": [-35, 43.95], "nice": false, "zero": false}, "axis": null},
        "y": {"datum": 18.16, "type": "quantitative", "scale": {"domain": [-26.45, 28.16], "nice": false, "zero": false}, "axis": null}
      }
    },
    {
      "data": {"values": [{}]},
      "mark": {"type": "text", "text": "5,1", "align": "center", "baseline": "middle", "font": "Liberation Sans", "fontSize": 10, "color": "#FF0000"},
      "encoding": {
        "x": {"datum": 38.03, "type": "quantitative", "scale": {"domain": [-35, 43.95], "nice": false, "zero": false}, "axis": null},
        "y": {"datum": 15.96, "type": "quantitative", "scale": {"domain": [-26.45, 28.16], "nice": false, "zero": false}, "axis": null}
      }
    },
    {
      "data": {"values": [{}]},
      "mark": {"type": "text", "text": "Uhr", "align": "center", "baseline": "middle", "font": "Liberation Sans", "fontSize": 10.5, "fontWeight": "bold", "color": "#000000"},
      "encoding": {
        "x": {"datum": 37.63, "type": "quantitative", "scale": {"domain": [-35, 43.95], "nice": false, "zero": false}, "axis": null},
        "y": {"datum": -4.3, "type": "quantitative", "scale": {"domain": [-26.45, 28.16], "nice": false, "zero": false}, "axis": null}
      }
    },
    {
      "data": {"values": [{}]},
      "mark": {"type": "text", "text": "Verteilung Windrichtung/Windgeschwindigkeit\u00a0 Montag, 20.06.2022", "align": "left", "baseline": "middle", "font": "Liberation Sans", "fontSize": 13.25, "fontWeight": "bold", "color": "#0000FF"},
      "encoding": {
        "x": {"datum": -32.01, "type": "quantitative", "scale": {"domain": [-35, 43.95], "nice": false, "zero": false}, "axis": null},
        "y": {"datum": 24.78, "type": "quantitative", "scale": {"domain": [-26.45, 28.16], "nice": false, "zero": false}, "axis": null}
      }
    },
    {
      "data": {"values": [{}]},
      "mark": {"type": "text", "text": "private Wetterstation Westerland/Tinnum", "align": "left", "baseline": "middle", "font": "Liberation Sans", "fontSize": 13.3, "fontWeight": "bold", "color": "#0000FF"},
      "encoding": {
        "x": {"datum": -2.01, "type": "quantitative", "scale": {"domain": [-35, 43.95], "nice": false, "zero": false}, "axis": null},
        "y": {"datum": 21.71, "type": "quantitative", "scale": {"domain": [-26.45, 28.16], "nice": false, "zero": false}, "axis": null}
      }
    },
    {
      "data": {"values": [{}]},
      "mark": {"type": "text", "text": "1440 Werte\u00a0\u00a0 -\u00a0\u00a0 Ø 5,3km/h\u00a0 -\u00a0 Max. 17,1km/h", "align": "left", "baseline": "middle", "font": "Liberation Sans", "fontSize": 11, "color": "#000000"},
      "encoding": {
        "x": {"datum": -32.14, "type": "quantitative", "scale": {"domain": [-35, 43.95], "nice": false, "zero": false}, "axis": null},
        "y": {"datum": -21.62, "type": "quantitative", "scale": {"domain": [-26.45, 28.16], "nice": false, "zero": false}, "axis": null}
      }
    },
    {
      "data": {"values": [{}]},
      "mark": {"type": "text", "text": "© WsWin32\u00a0 -\u00a0 © private Wetterstation Tinnum/Westerland/Sylt\u00a0 -\u00a0 54°54'13'' Nord; 8°19'13'' Ost", "align": "left", "baseline": "middle", "font": "Liberation Sans", "fontSize": 7.7, "fontWeight": "bold", "color": "#0000FF"},
      "encoding": {
        "x": {"datum": -32.14, "type": "quantitative", "scale": {"domain": [-35, 43.95], "nice": false, "zero": false}, "axis": null},
        "y": {"datum": -23.72, "type": "quantitative", "scale": {"domain": [-26.45, 28.16], "nice": false, "zero": false}, "axis": null}
      }
    }
  ]
}
